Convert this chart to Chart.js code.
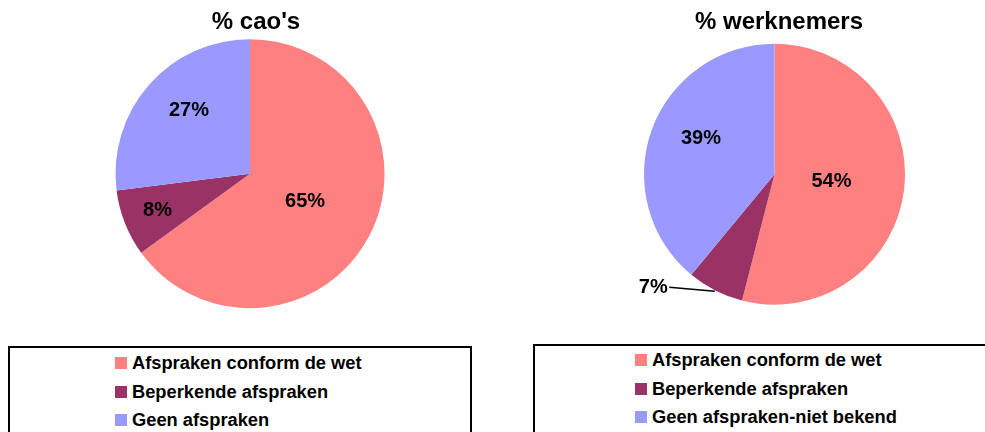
<!DOCTYPE html>
<html>
<head>
<meta charset="utf-8">
<script src="https://cdn.jsdelivr.net/npm/chart.js@4/dist/chart.umd.min.js"></script>
<style>
    html, body { margin: 0; padding: 0; background: #fff; width: 985px; height: 432px; overflow: hidden; position: relative; }
    canvas { position: absolute; top: 0; }
    #caoChart { left: 0; }
    #wnChart { left: 563px; }
    .legend {
        position: absolute;
        border: 2px solid #000;
        box-sizing: border-box;
        font-family: 'Liberation Sans', Arial, sans-serif;
        font-weight: bold;
        font-size: 18.3px;
        color: #000;
    }
    #caoLegend { left: 8px; top: 346px; width: 464px; height: 100px; padding: 1px 0 0 105px; }
    #wnLegend { left: 533px; top: 344px; width: 470px; height: 100px; padding: 0 0 0 100px; }
    .legend .item { height: 28.5px; display: flex; align-items: center; white-space: nowrap; }
    .legend .swatch { width: 12px; height: 12px; margin-right: 5px; flex: none; }
</style>
</head>
<body>
<canvas id="caoChart" width="512" height="330"></canvas>
<canvas id="wnChart" width="432" height="330"></canvas>
<div class="legend" id="caoLegend"></div>
<div class="legend" id="wnLegend"></div>
<script>
// categories and values
const caoLabels = ['Afspraken conform de wet', 'Beperkende afspraken', 'Geen afspraken'];
const wnLabels = ['Afspraken conform de wet', 'Beperkende afspraken', 'Geen afspraken-niet bekend'];
const caoValues = [65, 8, 27];
const wnValues = [54, 7, 39];
const sliceColors = ['#FF8080', '#993366', '#9999FF'];

const FONT = "'Liberation Sans', Arial, sans-serif";

// title centred on the canvas (the pie itself sits a few px left of it)
const canvasTitle = {
    id: 'canvasTitle',
    afterDraw(chart, args, opts) {
        const ctx = chart.ctx;
        ctx.save();
        ctx.font = 'bold 24px ' + FONT;
        ctx.fillStyle = '#000';
        ctx.textAlign = 'center';
        ctx.textBaseline = 'middle';
        ctx.fillText(opts.text, chart.width / 2, 22.5);
        ctx.restore();
    }
};

// draws the "%"-labels on the slices, optionally outside with a leader line
const sliceLabels = {
    id: 'sliceLabels',
    afterDatasetsDraw(chart, args, opts) {
        const ctx = chart.ctx;
        const meta = chart.getDatasetMeta(0);
        const values = chart.data.datasets[0].data;
        ctx.save();
        ctx.font = 'bold 20px ' + FONT;
        ctx.fillStyle = '#000';
        ctx.strokeStyle = '#000';
        ctx.textAlign = 'center';
        ctx.textBaseline = 'middle';
        meta.data.forEach((arc, i) => {
            const p = arc.getProps(['x', 'y', 'startAngle', 'endAngle', 'outerRadius'], true);
            const mid = (p.startAngle + p.endAngle) / 2;
            const pos = opts.positions[i];
            const a = mid + (pos.turn || 0) * Math.PI / 180;
            const lx = p.x + Math.cos(a) * p.outerRadius * pos.r;
            const ly = p.y + Math.sin(a) * p.outerRadius * pos.r;
            if (pos.leader) {
                ctx.lineWidth = 1.5;
                ctx.beginPath();
                ctx.moveTo(p.x + Math.cos(mid) * (p.outerRadius + 1), p.y + Math.sin(mid) * (p.outerRadius + 1));
                ctx.lineTo(lx + 16, ly);
                ctx.stroke();
            }
            ctx.fillText(values[i] + '%', lx, ly);
        });
        ctx.restore();
    }
};

function makePie(id, title, labels, values, radius, padRight, padBottom, positions) {
    return new Chart(document.getElementById(id), {
        type: 'pie',
        data: {
            labels: labels,
            datasets: [{
                data: values,
                backgroundColor: sliceColors,
                borderWidth: 0
            }]
        },
        options: {
            responsive: false,
            animation: false,
            radius: radius,
            layout: { padding: { top: 36.8, right: padRight, bottom: padBottom } },
            plugins: {
                legend: { display: false },
                tooltip: { enabled: false },
                title: { display: false },
                canvasTitle: { text: title },
                sliceLabels: { positions: positions }
            }
        },
        plugins: [sliceLabels, canvasTitle]
    });
}

const caoChart = makePie('caoChart', "% cao's", caoLabels, caoValues, 134.5, 12, 19.4,
    [{ r: 0.46 }, { r: 0.74 }, { r: 0.656, turn: 4.8 }]);
const wnChart = makePie('wnChart', '% werknemers', wnLabels, wnValues, 130.5, 9, 18.4,
    [{ r: 0.44 }, { r: 1.27, turn: 20, leader: true }, { r: 0.628, turn: 6.4 }]);

function buildLegend(el, labels) {
    labels.forEach((label, i) => {
        const item = document.createElement('div');
        item.className = 'item';
        const sw = document.createElement('span');
        sw.className = 'swatch';
        sw.style.background = sliceColors[i];
        item.appendChild(sw);
        item.appendChild(document.createTextNode(label));
        el.appendChild(item);
    });
}
buildLegend(document.getElementById('caoLegend'), caoLabels);
buildLegend(document.getElementById('wnLegend'), wnLabels);
</script>
</body>
</html>
